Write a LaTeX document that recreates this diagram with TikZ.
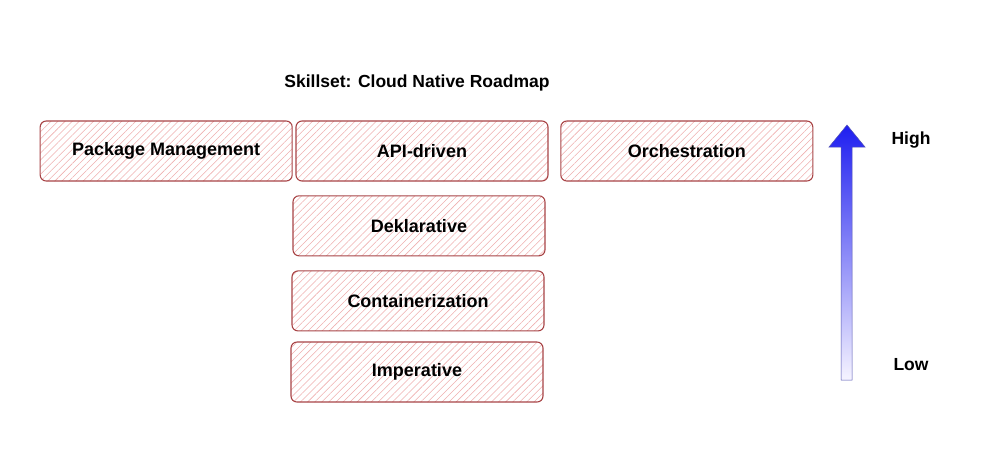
\documentclass[tikz,border=0pt]{standalone}
\usepackage{fontspec}
\setmainfont{Liberation Sans}
\usetikzlibrary{positioning,patterns.meta}

\definecolor{layerline}{HTML}{A84446}
\definecolor{layerhatch}{HTML}{EEAFAF}
\definecolor{levelblue}{HTML}{1E1EF0}
\definecolor{levelpale}{HTML}{F6F4FF}

\begin{document}
\begin{tikzpicture}[x=1pt, y=-1pt, node distance=14pt,
        layer/.style={draw=layerline, line width=1.1pt, rounded corners=6pt,
            pattern={Lines[angle=45, distance=5pt, line width=0.55pt]}, pattern color=layerhatch,
            minimum width=252pt, minimum height=60pt, inner sep=0pt,
            font=\fontsize{18}{21}\selectfont\bfseries},
        heading/.style={font=\fontsize{17.5}{20}\selectfont\bfseries},
        levelname/.style={font=\fontsize{17.5}{20}\selectfont\bfseries}]
    \useasboundingbox (0,0) rectangle (1002,448);

    \node[heading] (Title) at (417,83) {Skillset: Cloud Native Roadmap};

    \node[layer] (Api) at (422,151) {API-driven};
    \node[layer] (Package) [left=3pt of Api] {Package Management};
    \node[layer] (Orchestration) [right=12pt of Api] {Orchestration};
    \node[layer] (Declarative) [below=of Api, xshift=-3pt] {Deklarative};
    \node[layer] (Container) [below=of Declarative, xshift=-1pt] {Containerization};
    \node[layer] (Imperative) [below=10pt of Container, xshift=-1pt] {Imperative};

    % level arrow
    \shade[top color=levelblue, bottom color=levelpale, draw=levelblue!45!gray, line width=0.5pt]
        (841,380) -- (841,147) -- (829,147) -- (847,125) -- (865,147) -- (852,147) -- (852,380) -- cycle;
    \node[levelname] (High) at (911,140) {High};
    \node[levelname] (Low) at (911,365) {Low};
\end{tikzpicture}
\end{document}
